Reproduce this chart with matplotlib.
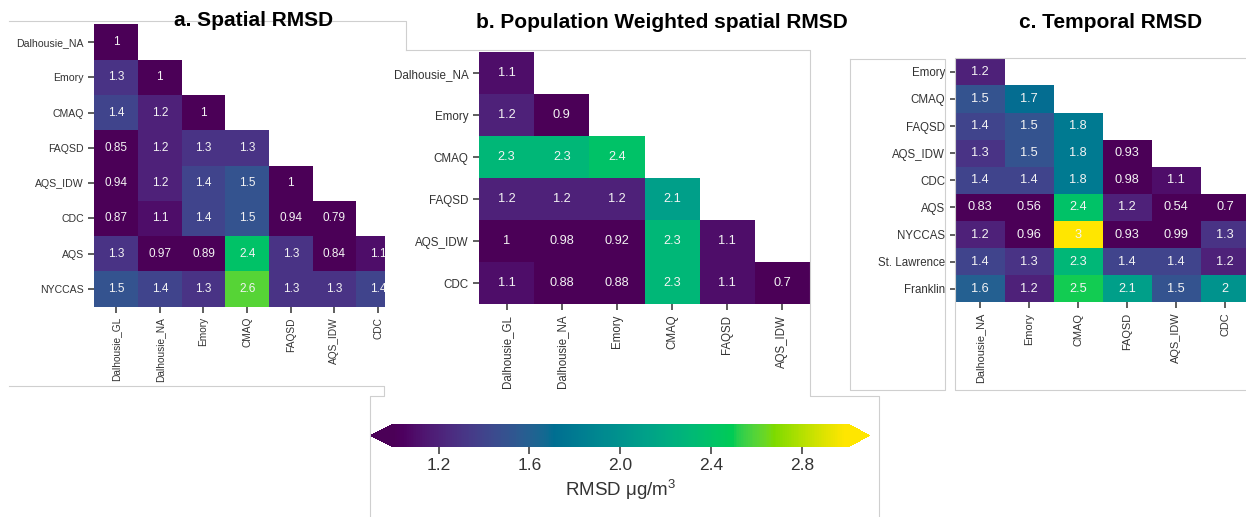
import numpy as np
import matplotlib
matplotlib.use('Agg')
import matplotlib.pyplot as plt
from matplotlib.colors import ListedColormap, Normalize
from matplotlib.lines import Line2D
from matplotlib.cm import ScalarMappable

plt.rcParams['font.family'] = ['Liberation Sans', 'DejaVu Sans']
plt.rcParams['mathtext.fontset'] = 'custom'
plt.rcParams['mathtext.rm'] = 'Liberation Sans'

# panel a: spatial RMSD (lower triangle, rows ragged)
rows_a = ['Dalhousie_NA', 'Emory', 'CMAQ', 'FAQSD', 'AQS_IDW', 'CDC', 'AQS', 'NYCCAS']
cols_a = ['Dalhousie_GL', 'Dalhousie_NA', 'Emory', 'CMAQ', 'FAQSD', 'AQS_IDW', 'CDC']
vals_a = [
    [1.0],
    [1.3, 1.0],
    [1.4, 1.2, 1.0],
    [0.85, 1.2, 1.3, 1.3],
    [0.94, 1.2, 1.4, 1.5, 1.0],
    [0.87, 1.1, 1.4, 1.5, 0.94, 0.79],
    [1.3, 0.97, 0.89, 2.4, 1.3, 0.84, 1.1],
    [1.5, 1.4, 1.3, 2.6, 1.3, 1.3, 1.4],
]

# panel b: population weighted spatial RMSD
rows_b = ['Dalhousie_NA', 'Emory', 'CMAQ', 'FAQSD', 'AQS_IDW', 'CDC']
cols_b = ['Dalhousie_GL', 'Dalhousie_NA', 'Emory', 'CMAQ', 'FAQSD', 'AQS_IDW']
vals_b = [
    [1.1],
    [1.2, 0.9],
    [2.3, 2.3, 2.4],
    [1.2, 1.2, 1.2, 2.1],
    [1.0, 0.98, 0.92, 2.3, 1.1],
    [1.1, 0.88, 0.88, 2.3, 1.1, 0.7],
]

# panel c: temporal RMSD
rows_c = ['Emory', 'CMAQ', 'FAQSD', 'AQS_IDW', 'CDC', 'AQS', 'NYCCAS', 'St. Lawrence', 'Franklin']
cols_c = ['Dalhousie_NA', 'Emory', 'CMAQ', 'FAQSD', 'AQS_IDW', 'CDC']
vals_c = [
    [1.2],
    [1.5, 1.7],
    [1.4, 1.5, 1.8],
    [1.3, 1.5, 1.8, 0.93],
    [1.4, 1.4, 1.8, 0.98, 1.1],
    [0.83, 0.56, 2.4, 1.2, 0.54, 0.7],
    [1.2, 0.96, 3.0, 0.93, 0.99, 1.3],
    [1.4, 1.3, 2.3, 1.4, 1.4, 1.2],
    [1.6, 1.2, 2.5, 2.1, 1.5, 2.0],
]

cbar_ticks = [1.2, 1.6, 2.0, 2.4, 2.8]


def p3_look(rgb):
    # viridis as it appears in the screenshot (values shown as display-P3)
    lin = np.where(rgb <= 0.04045, rgb / 12.92, ((rgb + 0.055) / 1.055) ** 2.4)
    M = np.array([[1.2249, -0.2247, 0.0],
                  [-0.0420, 1.0419, 0.0],
                  [-0.0197, -0.0786, 1.0979]])
    out = np.clip(lin @ M.T, 0, 1)
    return np.where(out <= 0.0031308, out * 12.92, 1.055 * out ** (1 / 2.4) - 0.055)


cmap = ListedColormap(p3_look(plt.cm.viridis(np.linspace(0, 1, 256))[:, :3]))
norm = Normalize(vmin=1.0, vmax=3.0)

W, H = 1246, 517
fig = plt.figure(figsize=(W / 100, H / 100), dpi=100)


def rect(x0, y0, x1, y1):
    return [x0 / W, 1 - y1 / H, (x1 - x0) / W, (y1 - y0) / H]


def seg(xs, ys):
    fig.add_artist(Line2D([x / W for x in xs], [1 - y / H for y in ys],
                          transform=fig.transFigure, color='#cfcfcf', lw=0.8))


def heat(ax, vals, rows, cols, xmax, annot_fs, ytick_fs, xtick_fs):
    grid = np.full((len(rows), len(cols)), np.nan)
    for i, r in enumerate(vals):
        grid[i, :len(r)] = r
    ax.pcolormesh(np.ma.masked_invalid(grid), cmap=cmap, norm=norm)
    for i, r in enumerate(vals):
        for j, v in enumerate(r):
            ax.text(j + 0.5, i + 0.5, '{:.2g}'.format(v), ha='center', va='center',
                    color='#f4f4f4', fontsize=annot_fs, clip_on=True)
    ax.set_xlim(0, xmax)
    ax.set_ylim(len(rows), 0)
    ax.set_xticks(np.arange(len(cols)) + 0.5)
    ax.set_xticklabels(cols, rotation=90, fontsize=xtick_fs, color='#333333')
    ax.set_yticks(np.arange(len(rows)) + 0.5)
    ax.set_yticklabels(rows, fontsize=ytick_fs, color='#333333')
    ax.tick_params(length=4.5, width=1.1, color='#333333', pad=3)
    for s in ax.spines.values():
        s.set_visible(False)


ax_a = fig.add_axes(rect(94.3, 24.3, 385, 306.7))
heat(ax_a, vals_a, rows_a, cols_a, 6.657, 8.5, 7.6, 7.3)

ax_b = fig.add_axes(rect(479, 52.3, 810, 304.3))
heat(ax_b, vals_b, rows_b, cols_b, 6, 9.2, 8.4, 8.3)

ax_c = fig.add_axes(rect(955.7, 58.3, 1246, 302.3))
heat(ax_c, vals_c, rows_c, cols_c, 5.925, 9.2, 8.3, 7.9)

fig.text(254 / W, 1 - 21 / H, 'a. Spatial RMSD', ha='center', va='center',
         fontsize=15, fontweight='bold')
fig.text(661.5 / W, 1 - 22 / H, 'b. Population Weighted spatial RMSD', ha='center',
         va='center', fontsize=15, fontweight='bold')
fig.text(1111 / W, 1 - 22 / H, 'c. Temporal RMSD', ha='center', va='center',
         fontsize=15, fontweight='bold')

# colorbar
cax = fig.add_axes(rect(370.5, 424, 870, 447))
cb = fig.colorbar(ScalarMappable(norm=norm, cmap=cmap), cax=cax,
                  orientation='horizontal', extend='both', ticks=cbar_ticks)
cb.outline.set_visible(False)
cb.ax.tick_params(labelsize=12.5, length=5, width=1.1, color='#333333',
                  labelcolor='#333333', pad=3)
cb.set_label('RMSD μg/m$^{3}$', fontsize=13.5, color='#333333', labelpad=3)

# screenshot frames
seg([9, 406, 406], [21, 21, 50])
seg([9, 384, 384, 370, 370], [386, 386, 396, 396, 517])
seg([406, 810, 810, 879, 879], [50, 50, 396, 396, 517])
seg([850, 945, 945, 850, 850], [59, 59, 390, 390, 59])
seg([1246, 955, 955, 1246], [58, 58, 390, 390])

fig.savefig('out.png', dpi=100)
